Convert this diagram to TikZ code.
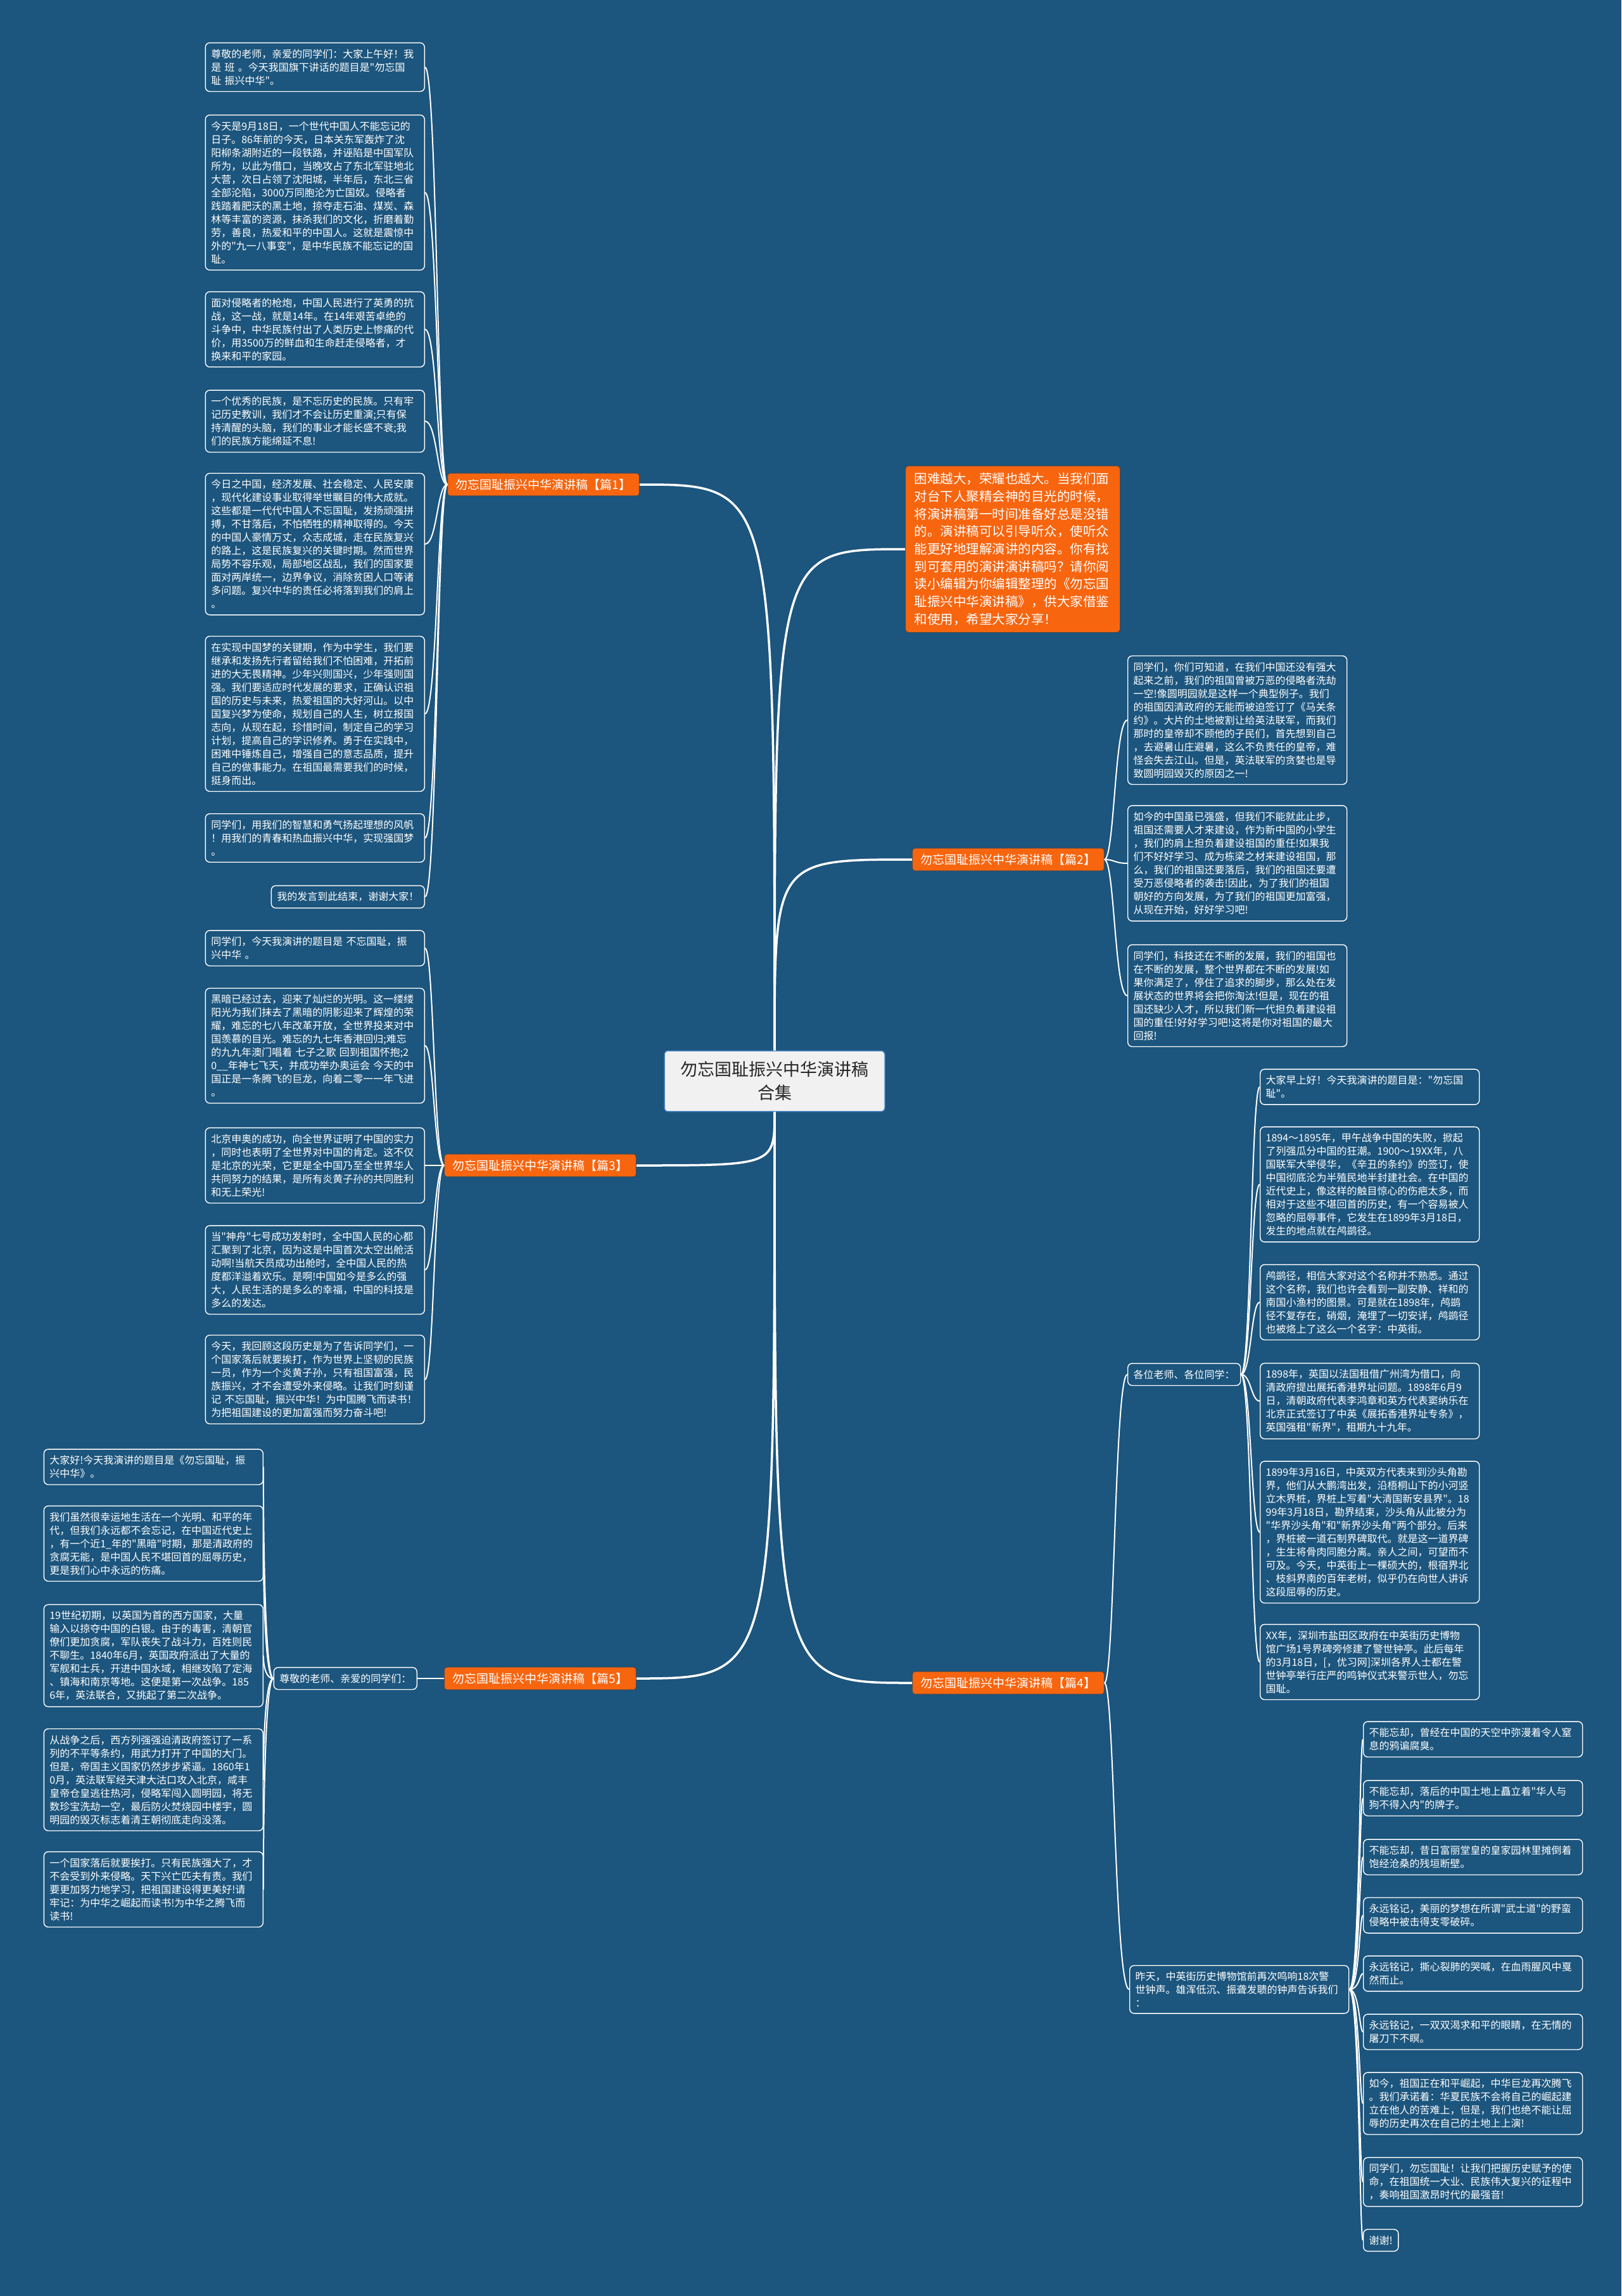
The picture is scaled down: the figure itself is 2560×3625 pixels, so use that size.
\documentclass[tikz,border=0pt]{standalone}
\usepackage{fontspec}
\setmainfont{Noto Sans CJK SC}
\newfontfamily\cjk{Noto Sans CJK SC}
\usepackage{xcolor}
\usepackage{tikz}
\usetikzlibrary{calc}
\definecolor{mapBlue}{HTML}{1C557D}
\definecolor{mapOrange}{HTML}{F7650F}
\definecolor{rootGrey}{HTML}{F1F1F1}
\definecolor{rootEdge}{HTML}{4A86C5}
\tikzset{
  para/.style={draw=white, line width=1.4pt, rounded corners=7pt, text=white,
    font=\cjk\fontsize{16}{21}\selectfont, align=left, inner xsep=9pt, inner ysep=10pt},
  parabox/.style={para, text width=328pt},
  pian/.style={fill=mapOrange, draw=black!70, line width=1pt, rounded corners=4pt,
    text=white, font=\cjk\fontsize{19}{24}\selectfont, inner xsep=13pt, inner ysep=9pt},
  intro/.style={fill=mapOrange, draw=black!70, line width=1pt, rounded corners=5pt,
    text=white, font=\cjk\fontsize{20.5}{27.7}\selectfont, align=left, text width=311pt,
    inner xsep=14pt, inner ysep=11pt},
  root/.style={fill=rootGrey, draw=rootEdge, line width=1.5pt, rounded corners=6pt,
    text=black!85, font=\cjk\fontsize{27}{37}\selectfont, align=center, text width=300pt,
    inner xsep=24pt, inner ysep=17pt},
  trunk/.style={white, line width=3.5pt},
  twig/.style={white, line width=2pt},
  tol/.style={to path={.. controls ($(\tikztostart)+(-16,0)$) and ($(\tikztostart |- \tikztotarget)+(-16,0)$) .. (\tikztotarget)}},
  tor/.style={to path={.. controls ($(\tikztostart)+(16,0)$) and ($(\tikztostart |- \tikztotarget)+(16,0)$) .. (\tikztotarget)}}
}

\begin{document}
\begin{tikzpicture}[x=1pt,y=-1pt]
  \fill[mapBlue] (0,0) rectangle (2560,3625);

  \node[root] (root) at (1223,1707) {勿忘国耻振兴中华演讲稿\\合集};
  \node[intro, anchor=west] (lead) at (1429,867) {困难越大，荣耀也越大。当我们面\\对台下人聚精会神的目光的时候，\\将演讲稿第一时间准备好总是没错\\的。演讲稿可以引导听众，使听众\\能更好地理解演讲的内容。你有找\\到可套用的演讲演讲稿吗？请你阅\\读小编辑为你编辑整理的《勿忘国\\耻振兴中华演讲稿》，供大家借鉴\\和使用，希望大家分享！};

  \node[pian] (p1) at (858,765) {勿忘国耻振兴中华演讲稿【篇1】};
  \node[pian] (p2) at (1592,1357) {勿忘国耻振兴中华演讲稿【篇2】};
  \node[pian] (p3) at (853,1840) {勿忘国耻振兴中华演讲稿【篇3】};
  \node[pian] (p5) at (853,2650) {勿忘国耻振兴中华演讲稿【篇5】};
  \node[pian] (p4) at (1592,2657) {勿忘国耻振兴中华演讲稿【篇4】};

  \node[parabox, anchor=east] (p1a) at (671,106) {尊敬的老师，亲爱的同学们：大家上午好！我\\是 班 。今天我国旗下讲话的题目是"勿忘国\\耻 振兴中华"。};
  \node[parabox, anchor=east] (p1b) at (671,304) {今天是9月18日，一个世代中国人不能忘记的\\日子。86年前的今天，日本关东军轰炸了沈\\阳柳条湖附近的一段铁路，并诬陷是中国军队\\所为，以此为借口，当晚攻占了东北军驻地北\\大营，次日占领了沈阳城，半年后，东北三省\\全部沦陷，3000万同胞沦为亡国奴。侵略者\\践踏着肥沃的黑土地，掠夺走石油、煤炭、森\\林等丰富的资源，抹杀我们的文化，折磨着勤\\劳，善良，热爱和平的中国人。这就是震惊中\\外的"九一八事变"，是中华民族不能忘记的国\\耻。};
  \node[parabox, anchor=east] (p1c) at (671,520) {面对侵略者的枪炮，中国人民进行了英勇的抗\\战，这一战，就是14年。在14年艰苦卓绝的\\斗争中，中华民族付出了人类历史上惨痛的代\\价，用3500万的鲜血和生命赶走侵略者，才\\换来和平的家园。};
  \node[parabox, anchor=east] (p1d) at (671,665) {一个优秀的民族，是不忘历史的民族。只有牢\\记历史教训，我们才不会让历史重演;只有保\\持清醒的头脑，我们的事业才能长盛不衰;我\\们的民族方能绵延不息!};
  \node[parabox, anchor=east] (p1e) at (671,859) {今日之中国，经济发展、社会稳定、人民安康\\，现代化建设事业取得举世瞩目的伟大成就。\\这些都是一代代中国人不忘国耻，发扬顽强拼\\搏，不甘落后，不怕牺牲的精神取得的。今天\\的中国人豪情万丈，众志成城，走在民族复兴\\的路上，这是民族复兴的关键时期。然而世界\\局势不容乐观，局部地区战乱，我们的国家要\\面对两岸统一，边界争议，消除贫困人口等诸\\多问题。复兴中华的责任必将落到我们的肩上\\。};
  \node[parabox, anchor=east] (p1f) at (671,1127) {在实现中国梦的关键期，作为中学生，我们要\\继承和发扬先行者留给我们不怕困难，开拓前\\进的大无畏精神。少年兴则国兴，少年强则国\\强。我们要适应时代发展的要求，正确认识祖\\国的历史与未来，热爱祖国的大好河山。以中\\国复兴梦为使命，规划自己的人生，树立报国\\志向，从现在起，珍惜时间，制定自己的学习\\计划，提高自己的学识修养。勇于在实践中，\\困难中锤炼自己，增强自己的意志品质，提升\\自己的做事能力。在祖国最需要我们的时候，\\挺身而出。};
  \node[parabox, anchor=east] (p1g) at (671,1323) {同学们，用我们的智慧和勇气扬起理想的风帆\\！用我们的青春和热血振兴中华，实现强国梦\\。};
  \node[para, anchor=east] (p1h) at (671,1416) {我的发言到此结束，谢谢大家！};

  \node[parabox, anchor=west] (p2a) at (1780,1137) {同学们，你们可知道，在我们中国还没有强大\\起来之前，我们的祖国曾被万恶的侵略者洗劫\\一空!像圆明园就是这样一个典型例子。我们\\的祖国因清政府的无能而被迫签订了《马关条\\约》。大片的土地被割让给英法联军，而我们\\那时的皇帝却不顾他的子民们，首先想到自己\\，去避暑山庄避暑，这么不负责任的皇帝，难\\怪会失去江山。但是，英法联军的贪婪也是导\\致圆明园毁灭的原因之一!};
  \node[parabox, anchor=west] (p2b) at (1780,1363) {如今的中国虽已强盛，但我们不能就此止步，\\祖国还需要人才来建设，作为新中国的小学生\\，我们的肩上担负着建设祖国的重任!如果我\\们不好好学习、成为栋梁之材来建设祖国，那\\么，我们的祖国还要落后，我们的祖国还要遭\\受万恶侵略者的袭击!因此，为了我们的祖国\\朝好的方向发展，为了我们的祖国更加富强，\\从现在开始，好好学习吧!};
  \node[parabox, anchor=west] (p2c) at (1780,1572) {同学们，科技还在不断的发展，我们的祖国也\\在不断的发展，整个世界都在不断的发展!如\\果你满足了，停住了追求的脚步，那么处在发\\展状态的世界将会把你淘汰!但是，现在的祖\\国还缺少人才，所以我们新一代担负着建设祖\\国的重任!好好学习吧!这将是你对祖国的最大\\回报!};

  \node[parabox, anchor=east] (p3a) at (671,1497) {同学们，今天我演讲的题目是 不忘国耻，振\\兴中华 。};
  \node[parabox, anchor=east] (p3b) at (671,1651) {黑暗已经过去，迎来了灿烂的光明。这一缕缕\\阳光为我们抹去了黑暗的阴影迎来了辉煌的荣\\耀，难忘的七八年改革开放，全世界投来对中\\国羡慕的目光。难忘的九七年香港回归;难忘\\的九九年澳门唱着 七子之歌 回到祖国怀抱;2\\0\_\_年神七飞天，并成功举办奥运会 今天的中\\国正是一条腾飞的巨龙，向着二零一一年飞进\\。};
  \node[parabox, anchor=east] (p3c) at (671,1840) {北京申奥的成功，向全世界证明了中国的实力\\，同时也表明了全世界对中国的肯定。这不仅\\是北京的光荣，它更是全中国乃至全世界华人\\共同努力的结果，是所有炎黄子孙的共同胜利\\和无上荣光!};
  \node[parabox, anchor=east] (p3d) at (671,2005) {当"神舟"七号成功发射时，全中国人民的心都\\汇聚到了北京，因为这是中国首次太空出舱活\\动啊!当航天员成功出舱时，全中国人民的热\\度都洋溢着欢乐。是啊!中国如今是多么的强\\大，人民生活的是多么的幸福，中国的科技是\\多么的发达。};
  \node[parabox, anchor=east] (p3e) at (671,2178) {今天，我回顾这段历史是为了告诉同学们，一\\个国家落后就要挨打，作为世界上坚韧的民族\\一员，作为一个炎黄子孙，只有祖国富强，民\\族振兴，才不会遭受外来侵略。让我们时刻谨\\记 不忘国耻，振兴中华！为中国腾飞而读书！\\为把祖国建设的更加富强而努力奋斗吧!};

  \node[para, anchor=east] (p5s) at (659,2650) {尊敬的老师、亲爱的同学们：};
  \node[parabox, anchor=east] (p5a) at (416,2316) {大家好!今天我演讲的题目是《勿忘国耻，振\\兴中华》。};
  \node[parabox, anchor=east] (p5b) at (416,2437) {我们虽然很幸运地生活在一个光明、和平的年\\代，但我们永远都不会忘记，在中国近代史上\\，有一个近1\_年的"黑暗"时期，那是清政府的\\贪腐无能，是中国人民不堪回首的屈辱历史，\\更是我们心中永远的伤痛。};
  \node[parabox, anchor=east] (p5c) at (416,2614) {19世纪初期，以英国为首的西方国家，大量\\输入以掠夺中国的白银。由于的毒害，清朝官\\僚们更加贪腐，军队丧失了战斗力，百姓则民\\不聊生。1840年6月，英国政府派出了大量的\\军舰和士兵，开进中国水域，相继攻陷了定海\\、镇海和南京等地。这便是第一次战争。185\\6年，英法联合，又挑起了第二次战争。};
  \node[parabox, anchor=east] (p5d) at (416,2810) {从战争之后，西方列强强迫清政府签订了一系\\列的不平等条约，用武力打开了中国的大门。\\但是，帝国主义国家仍然步步紧逼。1860年1\\0月，英法联军经天津大沽口攻入北京，咸丰\\皇帝仓皇逃往热河，侵略军闯入圆明园，将无\\数珍宝洗劫一空，最后防火焚烧园中楼宇，圆\\明园的毁灭标志着清王朝彻底走向没落。};
  \node[parabox, anchor=east] (p5e) at (416,2983) {一个国家落后就要挨打。只有民族强大了，才\\不会受到外来侵略。天下兴亡匹夫有责。我们\\要更加努力地学习，把祖国建设得更美好!请\\牢记：为中华之崛起而读书!为中华之腾飞而\\读书!};

  \node[para, anchor=west] (p4s) at (1780,2170) {各位老师、各位同学：};
  \node[parabox, anchor=west] (p4a) at (1989,1716) {大家早上好！今天我演讲的题目是："勿忘国\\耻"。};
  \node[parabox, anchor=west] (p4b) at (1989,1870) {1894～1895年，甲午战争中国的失败，掀起\\了列强瓜分中国的狂潮。1900～19XX年，八\\国联军大举侵华，《辛丑的条约》的签订，使\\中国彻底沦为半殖民地半封建社会。在中国的\\近代史上，像这样的触目惊心的伤疤太多，而\\相对于这些不堪回首的历史，有一个容易被人\\忽略的屈辱事件，它发生在1899年3月18日，\\发生的地点就在鸬鹚径。};
  \node[parabox, anchor=west] (p4c) at (1989,2056) {鸬鹚径，相信大家对这个名称并不熟悉。通过\\这个名称，我们也许会看到一副安静、祥和的\\南国小渔村的图景。可是就在1898年，鸬鹚\\径不复存在，硝烟，淹埋了一切安详，鸬鹚径\\也被烙上了这么一个名字：中英街。};
  \node[parabox, anchor=west] (p4d) at (1989,2212) {1898年，英国以法国租借广州湾为借口，向\\清政府提出展拓香港界址问题。1898年6月9\\日，清朝政府代表李鸿章和英方代表窦纳乐在\\北京正式签订了中英《展拓香港界址专条》，\\英国强租"新界"，租期九十九年。};
  \node[parabox, anchor=west] (p4e) at (1989,2419) {1899年3月16日，中英双方代表来到沙头角勘\\界，他们从大鹏湾出发，沿梧桐山下的小河竖\\立木界桩，界桩上写着"大清国新安县界"。18\\99年3月18日，勘界结束，沙头角从此被分为\\"华界沙头角"和"新界沙头角"两个部分。后来\\，界桩被一道石制界碑取代。就是这一道界碑\\，生生将骨肉同胞分离。亲人之间，可望而不\\可及。今天，中英街上一棵硕大的，根宿界北\\、枝斜界南的百年老树，似乎仍在向世人讲诉\\这段屈辱的历史。};
  \node[parabox, anchor=west] (p4f) at (1989,2624) {XX年，深圳市盐田区政府在中英街历史博物\\馆广场1号界碑旁修建了警世钟亭。此后每年\\的3月18日，[，优习网]深圳各界人士都在警\\世钟亭举行庄严的鸣钟仪式来警示世人，勿忘\\国耻。};

  \node[parabox, anchor=west] (p4t) at (1783,3141) {昨天，中英街历史博物馆前再次鸣响18次警\\世钟声。雄浑低沉、振聋发聩的钟声告诉我们\\：};
  \node[parabox, anchor=west] (p4g) at (2152,2746) {不能忘却，曾经在中国的天空中弥漫着令人窒\\息的鸦谝腐臭。};
  \node[parabox, anchor=west] (p4h) at (2152,2839) {不能忘却，落后的中国土地上矗立着"华人与\\狗不得入内"的牌子。};
  \node[parabox, anchor=west] (p4i) at (2152,2932) {不能忘却，昔日富丽堂皇的皇家园林里摊倒着\\饱经沧桑的残垣断壁。};
  \node[parabox, anchor=west] (p4j) at (2152,3024) {永远铭记，美丽的梦想在所谓"武士道"的野蛮\\侵略中被击得支零破碎。};
  \node[parabox, anchor=west] (p4k) at (2152,3116) {永远铭记，撕心裂肺的哭喊，在血雨腥风中戛\\然而止。};
  \node[parabox, anchor=west] (p4l) at (2152,3208) {永远铭记，一双双渴求和平的眼睛，在无情的\\屠刀下不瞑。};
  \node[parabox, anchor=west] (p4m) at (2152,3321) {如今，祖国正在和平崛起，中华巨龙再次腾飞\\。我们承诺着：华夏民族不会将自己的崛起建\\立在他人的苦难上，但是，我们也绝不能让屈\\辱的历史再次在自己的土地上上演!};
  \node[parabox, anchor=west] (p4n) at (2152,3445) {同学们，勿忘国耻！让我们把握历史赋予的使\\命，在祖国统一大业、民族伟大复兴的征程中\\，奏响祖国激昂时代的最强音!};
  \node[para, anchor=west] (p4o) at (2152,3537) {谢谢!};

  \draw[trunk] (root.north) .. controls (root.north |- p1.east) .. (p1.east);
  \draw[trunk] (root.north) .. controls (root.north |- lead.west) .. (lead.west);
  \draw[trunk] (root.north) .. controls (root.north |- p2.west) .. (p2.west);
  \draw[trunk] (root.south) .. controls (root.south |- p3.east) .. (p3.east);
  \draw[trunk] (root.south) .. controls (root.south |- p5.east) .. (p5.east);
  \draw[trunk] (root.south) .. controls (root.south |- p4.west) .. (p4.west);

  \draw[twig] (p1.west) to[tol] (p1a.east);
  \draw[twig] (p1.west) to[tol] (p1b.east);
  \draw[twig] (p1.west) to[tol] (p1c.east);
  \draw[twig] (p1.west) to[tol] (p1d.east);
  \draw[twig] (p1.west) to[tol] (p1e.east);
  \draw[twig] (p1.west) to[tol] (p1f.east);
  \draw[twig] (p1.west) to[tol] (p1g.east);
  \draw[twig] (p1.west) to[tol] (p1h.east);

  \draw[twig] (p2.east) to[tor] (p2a.west);
  \draw[twig] (p2.east) to[tor] (p2b.west);
  \draw[twig] (p2.east) to[tor] (p2c.west);

  \draw[twig] (p3.west) to[tol] (p3a.east);
  \draw[twig] (p3.west) to[tol] (p3b.east);
  \draw[twig] (p3.west) to[tol] (p3c.east);
  \draw[twig] (p3.west) to[tol] (p3d.east);
  \draw[twig] (p3.west) to[tol] (p3e.east);

  \draw[twig] (p5.west) -- (p5s.east);
  \draw[twig] (p5s.west) to[tol] (p5a.east);
  \draw[twig] (p5s.west) to[tol] (p5b.east);
  \draw[twig] (p5s.west) to[tol] (p5c.east);
  \draw[twig] (p5s.west) to[tol] (p5d.east);
  \draw[twig] (p5s.west) to[tol] (p5e.east);

  \draw[twig] (p4.east) to[tor] (p4s.west);
  \draw[twig] (p4.east) to[tor] (p4t.west);
  \draw[twig] (p4s.east) to[tor] (p4a.west);
  \draw[twig] (p4s.east) to[tor] (p4b.west);
  \draw[twig] (p4s.east) to[tor] (p4c.west);
  \draw[twig] (p4s.east) to[tor] (p4d.west);
  \draw[twig] (p4s.east) to[tor] (p4e.west);
  \draw[twig] (p4s.east) to[tor] (p4f.west);
  \draw[twig] (p4t.east) to[tor] (p4g.west);
  \draw[twig] (p4t.east) to[tor] (p4h.west);
  \draw[twig] (p4t.east) to[tor] (p4i.west);
  \draw[twig] (p4t.east) to[tor] (p4j.west);
  \draw[twig] (p4t.east) to[tor] (p4k.west);
  \draw[twig] (p4t.east) to[tor] (p4l.west);
  \draw[twig] (p4t.east) to[tor] (p4m.west);
  \draw[twig] (p4t.east) to[tor] (p4n.west);
  \draw[twig] (p4t.east) to[tor] (p4o.west);
\end{tikzpicture}
\end{document}
